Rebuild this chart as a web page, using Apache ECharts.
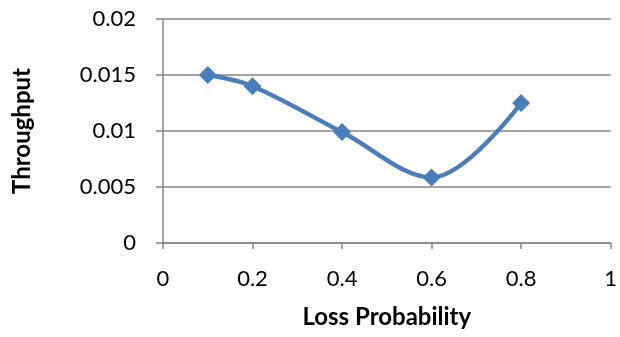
<!DOCTYPE html>
<html>
<head>
<meta charset="utf-8">
<script src="https://cdn.jsdelivr.net/npm/echarts@6/dist/echarts.min.js"></script>
<style>html,body{margin:0;padding:0;background:#fff;}#c{width:620px;height:337px;}</style>
</head>
<body>
<div id="c"></div>
<script>
var lossProbability = [0.1, 0.2, 0.4, 0.6, 0.8];
var throughput = [0.015, 0.014, 0.0099, 0.00585, 0.0125];
var xTicks = [0, 0.2, 0.4, 0.6, 0.8, 1];
var yTicks = [0, 0.005, 0.01, 0.015, 0.02];

var chart = echarts.init(document.getElementById('c'), null, {renderer: 'canvas'});
var font = 'Lato, "Liberation Sans", sans-serif';
chart.setOption({
  animation: false,
  backgroundColor: '#fff',
  grid: {left: 163, right: 9, top: 19, bottom: 94, containLabel: false},
  xAxis: {
    type: 'value', min: xTicks[0], max: xTicks[xTicks.length - 1], interval: 0.2,
    name: 'Loss Probability', nameLocation: 'middle', nameGap: 62,
    nameTextStyle: {fontFamily: font, fontSize: 24, fontWeight: 'bold', color: '#000'},
    axisLine: {show: true, lineStyle: {color: '#868686', width: 1.5}},
    axisTick: {show: true, length: 6, lineStyle: {color: '#868686', width: 1.5}},
    axisLabel: {fontFamily: font, fontSize: 22, color: '#000', margin: 25},
    splitLine: {show: false}
  },
  yAxis: {
    type: 'value', min: yTicks[0], max: yTicks[yTicks.length - 1], interval: 0.005,
    name: 'Throughput', nameLocation: 'middle', nameGap: 129,
    nameTextStyle: {fontFamily: font, fontSize: 24, fontWeight: 'bold', color: '#000'},
    axisLine: {show: true, lineStyle: {color: '#868686', width: 1.5}},
    axisTick: {show: true, length: 7, lineStyle: {color: '#868686', width: 1.5}},
    axisLabel: {fontFamily: font, fontSize: 22, color: '#000', margin: 27},
    splitLine: {show: true, lineStyle: {color: '#868686', width: 1.5}}
  },
  series: [{
    type: 'line',
    data: lossProbability.map(function (x, i) { return [x, throughput[i]]; }),
    smooth: 0.35,
    symbol: 'diamond', symbolSize: 18,
    lineStyle: {color: '#4a7ebb', width: 4.5},
    itemStyle: {color: '#4a7ebb'}
  }]
});
</script>
</body>
</html>
